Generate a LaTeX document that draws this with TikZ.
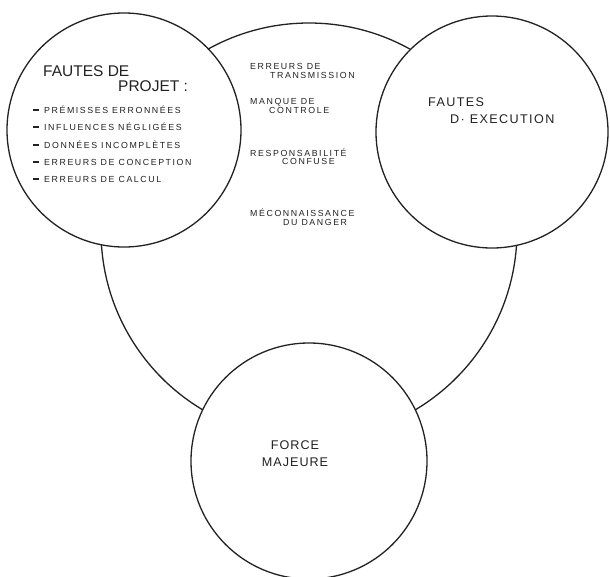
\documentclass[tikz,border=0pt]{standalone}
\usepackage{fontspec}
\setmainfont{Liberation Sans}
\newfontfamily\smallfnt{Liberation Sans}[LetterSpace=18]
\newfontfamily\rightfnt{Liberation Sans}[LetterSpace=11]
\newfontfamily\botfnt{Liberation Sans}[LetterSpace=8]
\definecolor{ink}{HTML}{222222}
\newcommand{\itemdash}{\rule[2.2pt]{6pt}{1.4pt}\hspace{5pt}}
\tikzset{
  ring/.style={circle, draw=ink, line width=1.3pt, fill=white, inner sep=0pt, outer sep=0pt},
  small/.style={anchor=base west, inner sep=0pt, text=ink, font=\smallfnt\fontsize{8.8}{10}\selectfont},
  bigtitle/.style={anchor=base west, inner sep=0pt, text=ink, font=\fontsize{15.5}{18}\selectfont},
  righttitle/.style={anchor=base west, inner sep=0pt, text=ink, font=\rightfnt\fontsize{12.6}{15}\selectfont},
  bottitle/.style={anchor=base, inner sep=0pt, text=ink, font=\botfnt\fontsize{12.6}{15}\selectfont}
}
\begin{document}
\begin{tikzpicture}[x=1pt,y=-1pt]
\useasboundingbox (0,0) rectangle (610,576);
\clip (0,0) rectangle (610,576);
\fill[white] (0,0) rectangle (610,576);
% big circle
\node[ring, minimum size=416pt] (big) at (309,231) {};
% small circles
\node[ring, minimum size=234pt] (projet) at (124,130) {};
\node[ring, minimum size=232pt] (exec) at (492,132) {};
\node[ring, minimum size=236pt] (force) at (309,461) {};
% left circle text
\node[bigtitle] (t1) at (43,76) {FAUTES DE};
\node[bigtitle] (t2) at (118,91) {PROJET :};
\node[small] (l1) at (33,113) {\itemdash PRÉMISSES ERRONNÉES};
\node[small] (l2) at (33,130) {\itemdash INFLUENCES NÉGLIGÉES};
\node[small] (l3) at (33,148) {\itemdash DONNÉES INCOMPLÈTES};
\node[small] (l4) at (33,165) {\itemdash ERREURS DE CONCEPTION};
\node[small] (l5) at (33,182) {\itemdash ERREURS DE CALCUL};
% middle text
\node[small] (m1) at (250,69) {ERREURS DE};
\node[small] (m2) at (270,78) {TRANSMISSION};
\node[small] (m3) at (250,104) {MANQUE DE};
\node[small] (m4) at (269,113) {CONTROLE};
\node[small] (m5) at (250,156) {RESPONSABILITÉ};
\node[small] (m6) at (282,164) {CONFUSE};
\node[small] (m7) at (250,216) {MÉCONNAISSANCE};
\node[small] (m8) at (283,225) {DU DANGER};
% right circle text
\node[righttitle] (r1) at (428,106) {FAUTES};
\node[righttitle] (r2) at (450,123) {D· EXECUTION};
% bottom circle text
\node[bottitle] (b1) at (295,449) {FORCE};
\node[bottitle] (b2) at (295,466) {MAJEURE};
\end{tikzpicture}
\end{document}
